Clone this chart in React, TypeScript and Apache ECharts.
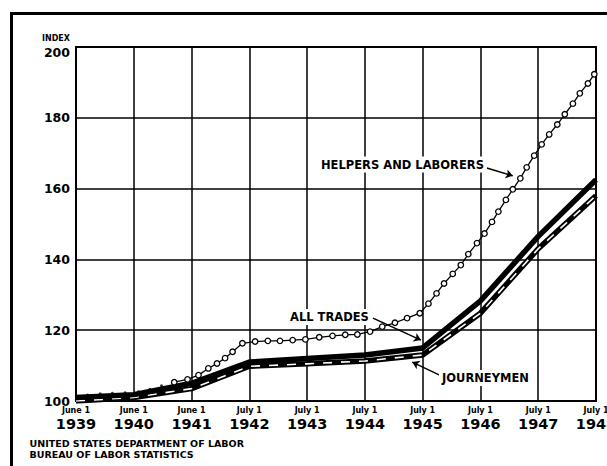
import React, { useEffect, useRef } from "react";
import * as echarts from "echarts";

const years = ["1939", "1940", "1941", "1942", "1943", "1944", "1945", "1946", "1947", "1948"];
const dates = ["June 1", "June 1", "June 1", "July 1", "July 1", "July 1", "July 1", "July 1", "July 1", "July 1"];
const yTicks = [100, 120, 140, 160, 180, 200];

const allTrades = [101, 101.8, 105, 111, 112, 113, 115, 128.3, 146.5, 162.5];
const journeymen = [100, 101, 103.5, 109.8, 110.5, 111.3, 113, 124.8, 143, 158];

// helpers & laborers: x in years since June 1939
const helpersEarly: [number, number][] = [
  [0.2, 101.7], [0.42, 102], [0.63, 102.2], [0.85, 102.3], [1.08, 102.6], [1.28, 103.3], [1.48, 104.3],
];
const helpersLine: [number, number][] = [
  [1.7, 105.3], [1.93, 106.1], [2.12, 107.3], [2.29, 109.2], [2.44, 110.6], [2.58, 112.1], [2.71, 113.9],
  [2.88, 116.3], [3.1, 116.8], [3.32, 117], [3.53, 117], [3.75, 117.2], [3.97, 117.4], [4.21, 118],
  [4.44, 118.4], [4.66, 118.7], [4.87, 118.8], [5.09, 119.6], [5.3, 121], [5.52, 122.1], [5.73, 123.4],
  [5.95, 124.8], [6.1, 127.5], [6.24, 130.4], [6.37, 133.2], [6.52, 135.9], [6.66, 138.4], [6.79, 141.5],
  [6.94, 144.6], [7.07, 147.3], [7.2, 150.6], [7.31, 153.5], [7.44, 156.8], [7.56, 159.8], [7.69, 162.9],
  [7.8, 166], [7.93, 169.3], [8.06, 172.5], [8.19, 175.3], [8.33, 178.1], [8.46, 181], [8.6, 184],
  [8.72, 186.9], [8.86, 189.7], [8.97, 192.3],
];

const arrows: [number, number, number, number][] = [
  [7.11, 165.8, 7.56, 163.6],
  [5.14, 123.4, 5.97, 117.2],
  [6.32, 107.1, 5.82, 111.0],
];

const FONT = "DejaVu Sans";

export default function App() {
  const ref = useRef<HTMLDivElement>(null);
  useEffect(() => {
    if (!ref.current) return;
    const chart = echarts.init(ref.current, null, { renderer: "svg" });
    const lbl = (text: string, x: number, y: number, size: number, align = "left") => ({
      type: "text",
      x,
      y,
      z: 20,
      style: {
        text,
        fontFamily: FONT,
        fontWeight: "bold",
        fontSize: size,
        fill: "#000",
        align,
        verticalAlign: "middle",
        backgroundColor: "#fff",
        padding: [2, 3],
      },
    });
    chart.setOption({
      animation: false,
      backgroundColor: "#fff",
      grid: {
        left: 76,
        right: 11,
        top: 47,
        bottom: 65,
        show: true,
        borderColor: "#000",
        borderWidth: 2,
        outerBoundsMode: "none",
      },
      xAxis: {
        type: "value",
        min: 0,
        max: 9,
        interval: 1,
        axisLine: { show: true, lineStyle: { color: "#000", width: 2 } },
        axisTick: { show: false },
        splitLine: { show: true, lineStyle: { color: "#000", width: 1.5 } },
        axisLabel: {
          margin: 5,
          showMaxLabel: true,
          showMinLabel: true,
          hideOverlap: false,
          formatter: (v: number) => `{a|${dates[v]}}\n{b|${years[v]}}`,
          rich: {
            a: { fontFamily: FONT, fontWeight: "bold", fontSize: 8, lineHeight: 9, color: "#000" },
            b: { fontFamily: FONT, fontWeight: "bold", fontSize: 14.5, lineHeight: 17, color: "#000" },
          },
        },
      },
      yAxis: {
        type: "value",
        min: yTicks[0],
        max: yTicks[yTicks.length - 1],
        interval: 20,
        axisLine: { show: true, lineStyle: { color: "#000", width: 2 } },
        axisTick: { show: false },
        splitLine: { show: true, lineStyle: { color: "#000", width: 1.5 } },
        axisLabel: {
          margin: 6,
          formatter: (v: number) => (v === 200 ? `{t|${v}}` : `{n|${v}}`),
          rich: {
            n: { fontFamily: FONT, fontWeight: "bold", fontSize: 12.5, color: "#000" },
            t: { fontFamily: FONT, fontWeight: "bold", fontSize: 12.5, color: "#000", padding: [10, 0, 0, 0] },
          },
        },
      },
      series: [
        {
          name: "Journeymen",
          type: "line",
          data: journeymen.map((v, i) => [i, v]),
          symbol: "none",
          lineStyle: { color: "#000", width: 5.5 },
          z: 2,
        },
        {
          name: "Journeymen dash",
          type: "line",
          data: journeymen.map((v, i) => [i, v]),
          symbol: "none",
          lineStyle: { color: "#fff", width: 1.6, type: [9, 9] },
          z: 3,
        },
        {
          name: "All trades",
          type: "line",
          data: allTrades.map((v, i) => [i, v]),
          symbol: "none",
          lineStyle: { color: "#000", width: 5.5 },
          z: 4,
        },
        {
          name: "Helpers early",
          type: "scatter",
          data: helpersEarly,
          symbol: "circle",
          symbolSize: 3,
          itemStyle: { color: "#000" },
          z: 5,
        },
        {
          name: "Helpers and laborers",
          type: "line",
          data: helpersLine,
          symbol: "circle",
          symbolSize: 5.5,
          showAllSymbol: true,
          lineStyle: { color: "#000", width: 1.3 },
          itemStyle: { color: "#fff", borderColor: "#000", borderWidth: 1.3 },
          z: 6,
          markLine: {
            silent: true,
            symbol: ["none", "arrow"],
            symbolSize: 7,
            label: { show: false },
            lineStyle: { color: "#000", width: 1.5, type: "solid" },
            data: arrows.map((a) => [{ coord: [a[0], a[1]] }, { coord: [a[2], a[3]] }]),
          },
        },
      ],
      graphic: [
        {
          type: "rect",
          z: -1,
          shape: { x: 11.5, y: 13.5, width: 700, height: 500 },
          style: { fill: "none", stroke: "#000", lineWidth: 3 },
        },
        {
          type: "text",
          x: 70,
          y: 38.5,
          style: { text: "INDEX", fontFamily: FONT, fontWeight: "bold", fontSize: 8, fill: "#000", align: "right", verticalAlign: "middle" },
        },
        lbl("HELPERS AND LABORERS", 318, 164.5, 11.5),
        lbl("ALL TRADES", 287, 317, 11.5),
        lbl("JOURNEYMEN", 439, 378, 11.5),
        {
          type: "text",
          x: 29.5,
          y: 443,
          style: { text: "UNITED STATES DEPARTMENT OF LABOR", fontFamily: FONT, fontWeight: "bold", fontSize: 9.5, fill: "#000", align: "left", verticalAlign: "middle" },
        },
        {
          type: "text",
          x: 29.5,
          y: 454,
          style: { text: "BUREAU OF LABOR STATISTICS", fontFamily: FONT, fontWeight: "bold", fontSize: 9.5, fill: "#000", align: "left", verticalAlign: "middle" },
        },
      ],
    });
    return () => chart.dispose();
  }, []);
  return <div ref={ref} style={{ position: "absolute", left: 0, top: 0, width: 607, height: 466 }} />;
}
